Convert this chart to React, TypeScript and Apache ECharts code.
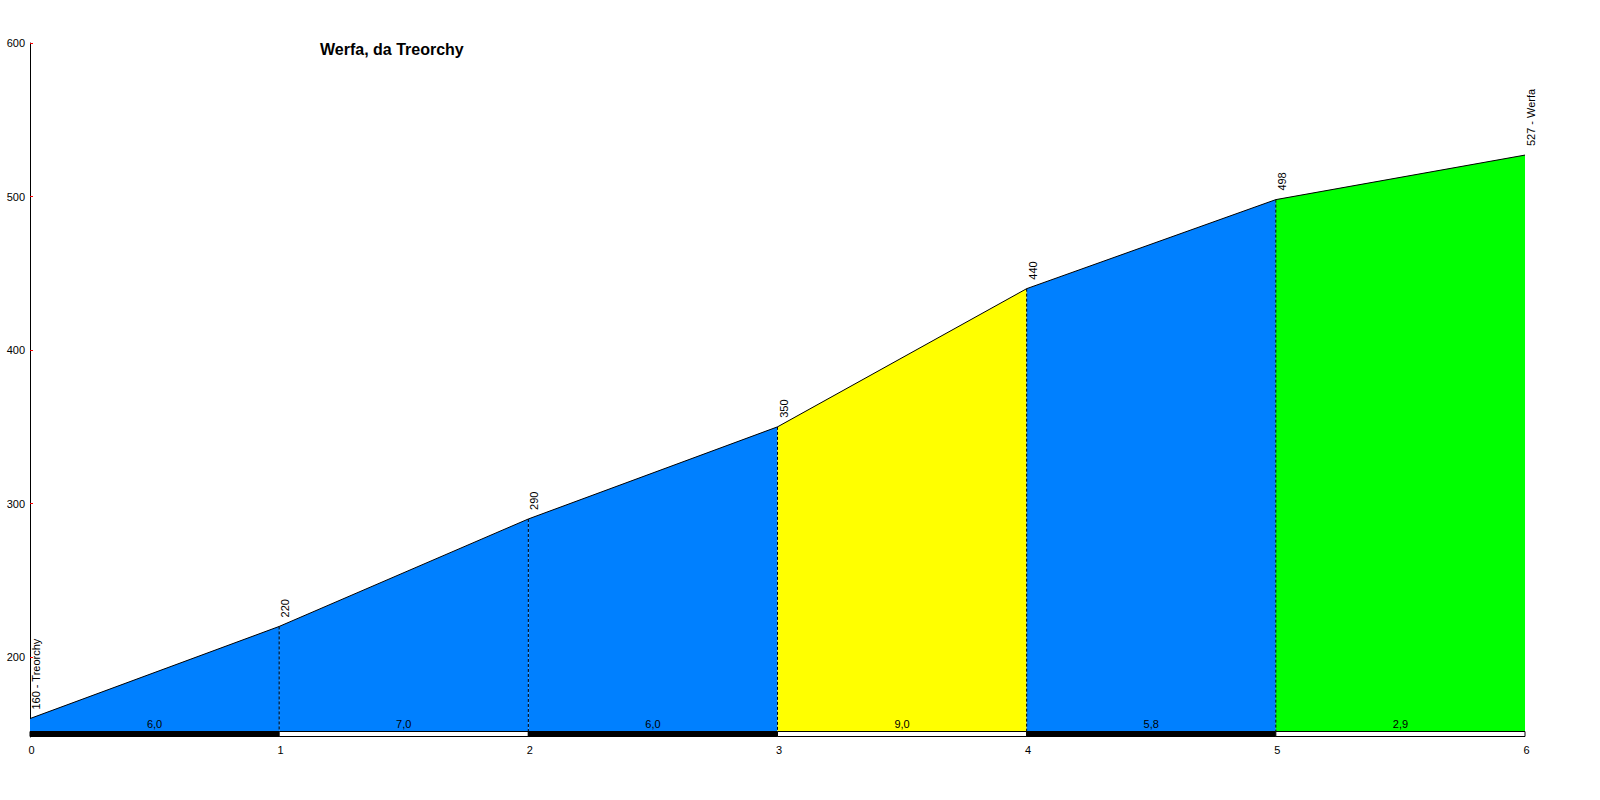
import React, { useEffect, useRef } from "react";
import * as echarts from "echarts";

const TITLE = "Werfa, da Treorchy";
const kms = [0, 1, 2, 3, 4, 5, 6];
const elevations = [160, 220, 290, 350, 440, 498, 527];
const pointLabels = ["160 - Treorchy", "220", "290", "350", "440", "498", "527 - Werfa"];
const gradients = ["6,0", "7,0", "6,0", "9,0", "5,8", "2,9"];
const yTicks = [200, 300, 400, 500, 600];
const xTicks = [0, 1, 2, 3, 4, 5, 6];

const segmentColors = ["#0080FF", "#0080FF", "#0080FF", "#FFFF00", "#0080FF", "#00FF00"];
const Y_MIN = 148;
const Y_MAX = 600;
const FONT = "'Liberation Sans', Arial, sans-serif";

export default function App() {
  const ref = useRef<HTMLDivElement>(null);
  useEffect(() => {
    if (!ref.current) return;
    const chart = echarts.init(ref.current, null, { renderer: "svg" });

    const areaSeries = gradients.map((_, i) => ({
      type: "line",
      data: [
        [kms[i], elevations[i]],
        [kms[i + 1], elevations[i + 1]],
      ],
      showSymbol: false,
      symbol: "none",
      lineStyle: { color: "#000", width: 1 },
      areaStyle: { color: segmentColors[i], opacity: 1, origin: "start" },
      z: 2,
      silent: true,
    }));

    const dashSeries = {
      type: "custom",
      z: 3,
      silent: true,
      data: kms.slice(1, -1).map((k, i) => [k, elevations[i + 1]]),
      renderItem: (params: any, api: any) => {
        const top = api.coord([api.value(0), api.value(1)]);
        const bot = api.coord([api.value(0), Y_MIN]);
        return {
          type: "line",
          shape: { x1: top[0], y1: top[1], x2: bot[0], y2: bot[1] - 6 },
          style: { stroke: "#000", lineWidth: 1, lineDash: [3, 2] },
        };
      },
    };

    const stripSeries = {
      type: "custom",
      z: 4,
      silent: true,
      data: gradients.map((g, i) => [kms[i], kms[i + 1], i]),
      renderItem: (params: any, api: any) => {
        const a = api.coord([api.value(0), Y_MIN]);
        const b = api.coord([api.value(1), Y_MIN]);
        const idx = api.value(2);
        return {
          type: "group",
          children: [
            {
              type: "rect",
              shape: { x: a[0], y: a[1] - 5.5, width: b[0] - a[0], height: 5 },
              style: { fill: idx % 2 === 0 ? "#000" : "#fff", stroke: "#000", lineWidth: 1 },
            },
            {
              type: "text",
              x: (a[0] + b[0]) / 2,
              y: a[1] - 13,
              style: {
                text: gradients[idx],
                fill: "#000",
                font: `11px ${FONT}`,
                align: "center",
                verticalAlign: "middle",
              },
            },
          ],
        };
      },
    };

    const labelSeries = {
      type: "custom",
      z: 5,
      silent: true,
      clip: false,
      data: kms.map((k, i) => [k, elevations[i], i]),
      renderItem: (params: any, api: any) => {
        const p = api.coord([api.value(0), api.value(1)]);
        const idx = api.value(2);
        return {
          type: "text",
          x: p[0] + 6,
          y: p[1] - 9,
          rotation: Math.PI / 2,
          style: {
            text: pointLabels[idx],
            fill: "#000",
            font: `11px ${FONT}`,
            align: "left",
            verticalAlign: "middle",
          },
        };
      },
    };

    chart.setOption({
      animation: false,
      backgroundColor: "#fff",
      title: {
        text: TITLE,
        left: 315,
        top: 36,
        textStyle: { fontFamily: FONT, fontSize: 16, fontWeight: "bold", color: "#000" },
      },
      grid: { left: 30, right: 75, top: 43, bottom: 63, containLabel: false },
      xAxis: {
        type: "value",
        min: 0,
        max: 6,
        interval: 1,
        axisLine: { show: false },
        axisTick: { show: false },
        splitLine: { show: false },
        axisLabel: {
          color: "#000",
          fontFamily: FONT,
          fontSize: 11,
          margin: 7,
          customValues: xTicks,
          padding: [0, 0, 0, 3],
        },
      },
      yAxis: {
        type: "value",
        min: Y_MIN,
        max: Y_MAX,
        splitLine: { show: false },
        axisLine: { show: true, lineStyle: { color: "#000", width: 1 } },
        axisTick: {
          show: true,
          inside: true,
          length: 3,
          lineStyle: { color: "#ff0000" },
          customValues: yTicks,
        },
        axisLabel: {
          color: "#000",
          fontFamily: FONT,
          fontSize: 11,
          margin: 5,
          customValues: yTicks,
        },
      },
      series: [...areaSeries, dashSeries, stripSeries, labelSeries],
    });
    return () => chart.dispose();
  }, []);
  return (
    <div
      ref={ref}
      style={{ position: "fixed", left: 0, top: 0, width: 1600, height: 800, background: "#fff" }}
    />
  );
}
